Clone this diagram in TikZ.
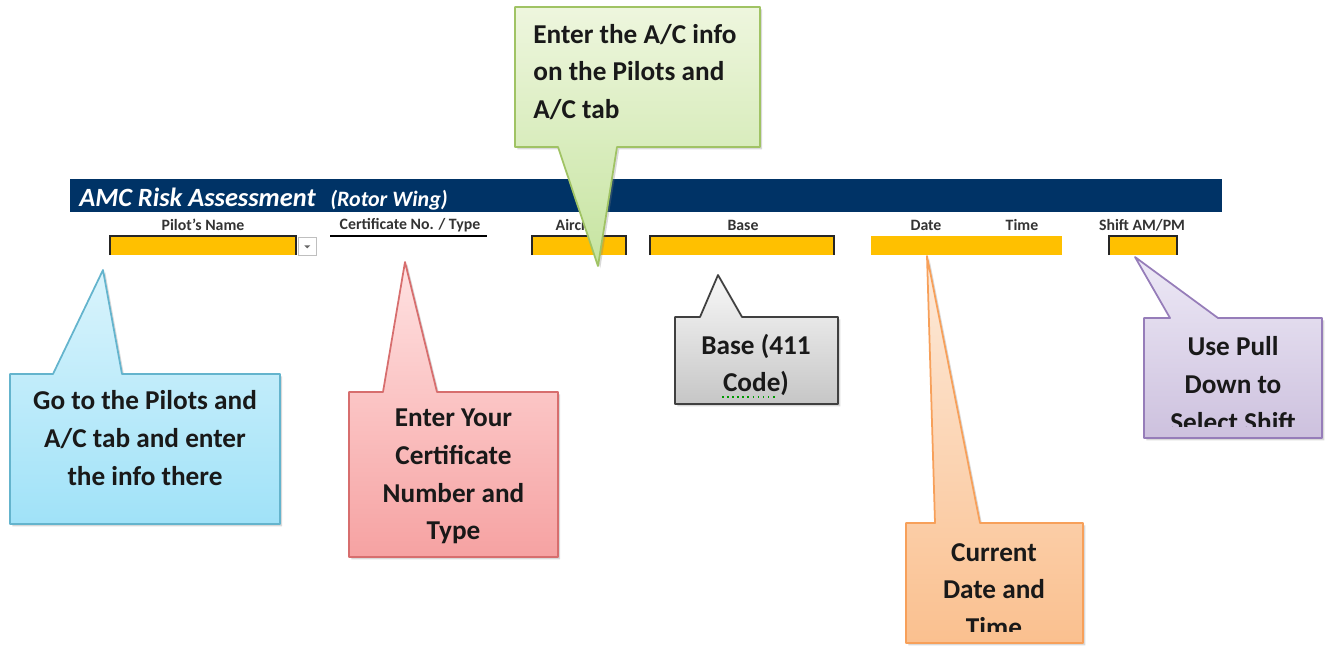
\documentclass[tikz,border=0pt]{standalone}
\usepackage{fontspec}
\setmainfont{Carlito}
\usetikzlibrary{positioning,calc,shadows}

\definecolor{headnavy}{RGB}{0,51,102}
\definecolor{cellyellow}{RGB}{255,192,0}
\definecolor{bluetop}{RGB}{218,244,252}
\definecolor{bluebot}{RGB}{160,226,248}
\definecolor{blueedge}{RGB}{100,180,205}
\definecolor{redtop}{RGB}{255,226,226}
\definecolor{redbot}{RGB}{246,162,162}
\definecolor{rededge}{RGB}{215,110,110}
\definecolor{greentop}{RGB}{238,246,222}
\definecolor{greenbot}{RGB}{198,228,160}
\definecolor{greenedge}{RGB}{160,195,100}
\definecolor{greytop}{RGB}{248,248,248}
\definecolor{greybot}{RGB}{198,198,198}
\definecolor{greyedge}{RGB}{64,64,64}
\definecolor{orangetop}{RGB}{253,234,218}
\definecolor{orangebot}{RGB}{250,192,143}
\definecolor{orangeedge}{RGB}{247,160,90}
\definecolor{purpletop}{RGB}{237,233,246}
\definecolor{purplebot}{RGB}{205,193,222}
\definecolor{purpleedge}{RGB}{150,125,185}

\begin{document}
\begin{tikzpicture}[x=0.02cm, y=-0.02cm,
    cell/.style={fill=cellyellow, minimum height=0.38cm, inner sep=0, outer sep=0, anchor=north west},
    cellrim/.style={draw=black!85, line width=1.1pt},
    colhead/.style={font=\bfseries\fontsize{9}{10}\selectfont, inner sep=0, text=black!80},
    notebody/.style={inner sep=0, outer sep=0, anchor=north west},
    note/.style={line width=1pt, line join=round, drop shadow={opacity=0.3, shadow xshift=1.3pt, shadow yshift=-1.3pt}},
    notetext/.style={font=\bfseries\fontsize{15.5}{21.5}\selectfont, align=center, inner sep=0, text=black!90},
    bluenote/.style={note, draw=blueedge, top color=bluetop, bottom color=bluebot},
    rednote/.style={note, draw=rededge, top color=redtop, bottom color=redbot},
    greennote/.style={note, draw=greenedge, top color=greentop, bottom color=greenbot},
    greynote/.style={note, draw=greyedge, top color=greytop, bottom color=greybot},
    orangenote/.style={note, draw=orangeedge, top color=orangetop, bottom color=orangebot},
    purplenote/.style={note, draw=purpleedge, top color=purpletop, bottom color=purplebot}
  ]
  \useasboundingbox (0,0) rectangle (1326,647);

  % header bar
  \node[fill=headnavy, minimum width=23.04cm, minimum height=0.66cm, inner sep=0, anchor=north west] (bar) at (70,179) {};
  \node[anchor=west, inner sep=0, text=white, font=\bfseries\itshape\fontsize{15}{18}\selectfont] (title) at (79,197) {AMC Risk Assessment};
  \node[anchor=base west, inner sep=0, text=white, font=\bfseries\itshape\fontsize{12.5}{15}\selectfont] (subtitle) at ([xshift=0.28cm]title.base east) {(Rotor Wing)};

  % column headings
  \node[colhead] (pilothead) at (203,225) {Pilot's Name};
  \node[colhead] (certhead) at (410,225) {Certificate No. / Type};
  \draw[line width=1.1pt] (330,236) -- (487,236);
  \node[colhead] (acfthead) at (580,225) {Aircraft};
  \node[colhead] (basehead) at (743,225) {Base};
  \node[colhead] (datehead) at (926,225) {Date};
  \node[colhead] (timehead) at (1022,225) {Time};
  \node[colhead] (shifthead) at (1142,225) {Shift AM/PM};

  % input cells
  \node[cell, minimum width=3.72cm] (pilotcell) at (110,236) {};
  \draw[cellrim] (pilotcell.south west) |- (pilotcell.north east) -- (pilotcell.south east);
  \node[draw=black!25, fill=white, minimum width=0.36cm, minimum height=0.36cm, inner sep=0, anchor=north west] (pilotdrop) at (298,237) {};
  \fill[black!60] ($(pilotdrop.center)+(-3,-1)$) -- ++(6,0) -- ++(-3,3) -- cycle;
  \node[cell, minimum width=1.88cm] (acftcell) at (532,236) {};
  \draw[cellrim] (acftcell.south west) |- (acftcell.north east) -- (acftcell.south east);
  \node[cell, minimum width=3.68cm] (basecell) at (650,236) {};
  \draw[cellrim] (basecell.south west) |- (basecell.north east) -- (basecell.south east);
  \node[cell, minimum width=3.82cm] (datecell) at (871,236) {};
  \node[cell, minimum width=1.36cm] (shiftcell) at (1109,236) {};
  \draw[cellrim] (shiftcell.south west) |- (shiftcell.north east) -- (shiftcell.south east);

  % callouts
  \coordinate (pilottip) at (103,270);
  \node[notebody, minimum width=5.4cm, minimum height=3cm] (pilotnote) at (10,374) {};
  \draw[bluenote] (pilotnote.south west) -- (pilotnote.north west) -- (53,0 |- pilotnote.north) -- (pilottip)
    -- (122,0 |- pilotnote.north) -- (pilotnote.north east) -- (pilotnote.south east) -- cycle;
  \node[notetext] at (145,438) {Go to the Pilots and\\A/C tab and enter\\the info there};

  \coordinate (certtip) at (405,262);
  \node[notebody, minimum width=4.18cm, minimum height=3.3cm] (certnote) at (349,392) {};
  \draw[rednote] (certnote.south west) -- (certnote.north west) -- (383,0 |- certnote.north) -- (certtip)
    -- (437,0 |- certnote.north) -- (certnote.north east) -- (certnote.south east) -- cycle;
  \node[notetext] at ([yshift=-0.04cm]certnote.center) {Enter Your\\Certificate\\Number and\\Type};

  \coordinate (acfttip) at (598,266);
  \node[notebody, minimum width=4.9cm, minimum height=2.8cm] (acftnote) at (515,7) {};
  \draw[greennote] (acftnote.north west) -- (acftnote.north east) -- (acftnote.south east) -- (617,0 |- acftnote.south)
    -- (acfttip) -- (558,0 |- acftnote.south) -- (acftnote.south west) -- cycle;
  \node[notetext, align=left, anchor=west] at (533,72) {Enter the A/C info\\on the Pilots and\\A/C tab};

  \coordinate (basetip) at (718,275);
  \node[notebody, minimum width=3.26cm, minimum height=1.74cm] (basenote) at (675,317) {};
  \draw[greynote] (basenote.south west) -- (basenote.north west) -- (700,0 |- basenote.north) -- (basetip)
    -- (742,0 |- basenote.north) -- (basenote.north east) -- (basenote.south east) -- cycle;
  \node[notetext] at (756,365) {Base (411\\Code)};
  \draw[dotted, green!60!black, line width=0.9pt] (722,397) -- (778,397);

  \coordinate (datetip) at (927,256);
  \node[notebody, minimum width=3.54cm, minimum height=2.4cm] (datenote) at (906,523) {};
  \draw[orangenote] (datenote.south west) -- (datenote.north west) -- (935,0 |- datenote.north) -- (datetip)
    -- (980,0 |- datenote.north) -- (datenote.north east) -- (datenote.south east) -- cycle;
  \begin{scope}
    \clip (datenote.north west) rectangle ([yshift=0.22cm]datenote.south east);
    \node[notetext] at (994,590) {Current\\Date and\\Time};
  \end{scope}

  \coordinate (shifttip) at (1135,257);
  \node[notebody, minimum width=3.56cm, minimum height=2.4cm] (shiftnote) at (1144,318) {};
  \draw[purplenote] (shiftnote.south west) -- (shiftnote.north west) -- (1170,0 |- shiftnote.north) -- (shifttip)
    -- (1218,0 |- shiftnote.north) -- (shiftnote.north east) -- (shiftnote.south east) -- cycle;
  \begin{scope}
    \clip (shiftnote.north west) rectangle ([yshift=0.22cm]shiftnote.south east);
    \node[notetext] at (1233,384) {Use Pull\\Down to\\Select Shift};
  \end{scope}
\end{tikzpicture}
\end{document}
